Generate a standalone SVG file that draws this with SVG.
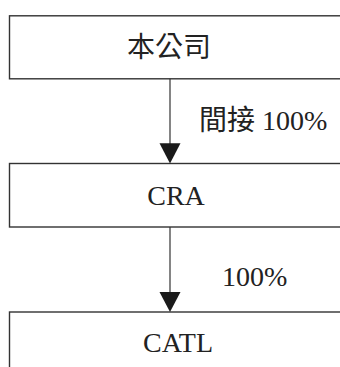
<svg xmlns="http://www.w3.org/2000/svg" width="340" height="367" viewBox="0 0 340 367">
<defs>
<style>
.box{fill:#fff;stroke:#333;stroke-width:1.4}
.lbl{font-family:"Liberation Serif","Noto Sans CJK TC",serif;font-size:28px;fill:#222}
.line{stroke:#333;stroke-width:1.2;fill:none}
.head{fill:#1a1a1a}
</style>
</defs>
<rect width="340" height="367" fill="#fff"/>
<g id="node-company">
<rect class="box" x="9.5" y="15.8" width="340" height="63"/>
<text class="lbl" x="169" y="57" text-anchor="middle" font-size="29">本公司</text>
</g>
<g id="node-cra">
<rect class="box" x="9.5" y="163.5" width="340" height="63.5"/>
<text class="lbl" x="176" y="204.5" text-anchor="middle">CRA</text>
</g>
<g id="node-catl">
<rect class="box" x="9.5" y="312" width="340" height="80"/>
<text class="lbl" x="178" y="351.5" text-anchor="middle">CATL</text>
</g>
<g id="connectors">
<line class="line" x1="170" y1="78.8" x2="170" y2="145"/>
<polygon class="head" points="159.5,143.3 180.5,143.3 170,163.5"/>
<text class="lbl" x="199" y="130">間接 100%</text>
<line class="line" x1="170" y1="227" x2="170" y2="294"/>
<polygon class="head" points="159.5,292 180.5,292 170,312"/>
<text class="lbl" x="222" y="285.5">100%</text>
</g>
</svg>
